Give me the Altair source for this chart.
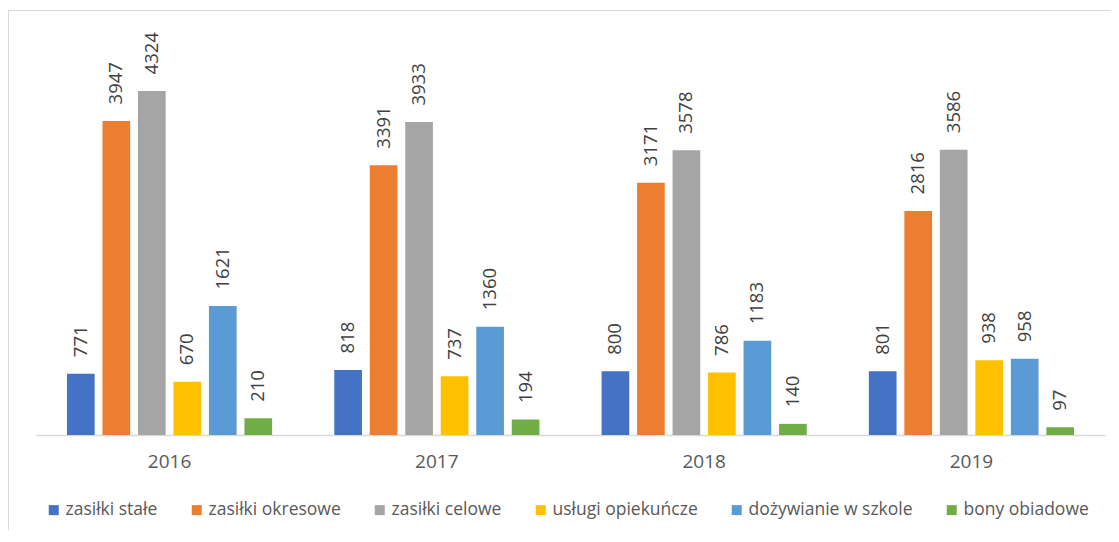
import altair as alt
import pandas as pd

years = ["2016", "2017", "2018", "2019"]
series = ["zasiłki stałe", "zasiłki okresowe", "zasiłki celowe",
          "usługi opiekuńcze", "dożywianie w szkole", "bony obiadowe"]
zasilki_stale = [771, 818, 800, 801]
zasilki_okresowe = [3947, 3391, 3171, 2816]
zasilki_celowe = [4324, 3933, 3578, 3586]
uslugi_opiekuncze = [670, 737, 786, 938]
dozywianie = [1621, 1360, 1183, 958]
bony_obiadowe = [210, 194, 140, 97]
colors = ["#4472C4", "#ED7D31", "#A5A5A5", "#FFC000", "#5B9BD5", "#70AD47"]

values = [zasilki_stale, zasilki_okresowe, zasilki_celowe,
          uslugi_opiekuncze, dozywianie, bony_obiadowe]
rows = []
for s, vals in zip(series, values):
    for y, v in zip(years, vals):
        rows.append({"rok": y, "seria": s, "wartosc": v})
df = pd.DataFrame(rows)

W, H = 1103, 520
FONT = "Open Sans"
TXT = "#595959"

x_enc = alt.X("rok:N", sort=years,
              scale=alt.Scale(range=[27.9, 1097.1], paddingInner=0, paddingOuter=0),
              axis=alt.Axis(title=None, orient="bottom", offset=-95, ticks=False,
                            labelAngle=0, labelFontSize=19, labelColor=TXT,
                            labelFont=FONT, labelPadding=17.5,
                            domainColor="#d9d9d9", domainWidth=1.5, grid=False))
xo_enc = alt.XOffset("seria:N", sort=series,
                     scale=alt.Scale(paddingInner=0.22, paddingOuter=0.875))
y_enc = alt.Y("wartosc:Q", scale=alt.Scale(domain=[-1194, 5341], nice=False, zero=False),
              axis=None)

base = alt.Chart(df)

bars = base.mark_bar().encode(
    x=x_enc,
    xOffset=xo_enc,
    y=y_enc,
    y2=alt.datum(0),
    color=alt.Color("seria:N", sort=series,
                    scale=alt.Scale(domain=series, range=colors),
                    legend=alt.Legend(title=None, orient="none", direction="horizontal",
                                      legendX=37, legendY=491, symbolType="square",
                                      symbolSize=100, symbolStrokeWidth=0,
                                      labelFontSize=17.5, labelColor=TXT, labelFont=FONT,
                                      labelLimit=400,
                                      columnPadding=30, labelOffset=3, padding=0,
                                      symbolOpacity=1)),
)

labels = base.mark_text(angle=270, align="left", baseline="middle", dx=16.5,
                        fontSize=18.5, font=FONT, color="#404040").encode(
    x=x_enc,
    xOffset=xo_enc,
    y=y_enc,
    text=alt.Text("wartosc:Q", format="d"),
)

border_top = alt.Chart(pd.DataFrame({"a": [0]})).mark_rule(color="#d9d9d9", strokeWidth=1).encode(
    x=alt.value(0), x2=alt.value(W), y=alt.value(0.5))
border_left = alt.Chart(pd.DataFrame({"a": [0]})).mark_rule(color="#d9d9d9", strokeWidth=1).encode(
    x=alt.value(0.5), y=alt.value(0), y2=alt.value(H))

chart = alt.layer(border_top, border_left, bars, labels).properties(
    width=W, height=H,
    autosize=alt.AutoSizeParams(type="none"),
    padding={"left": 0, "top": 2, "right": 0, "bottom": 0},
).configure_view(strokeWidth=0).configure(font=FONT)

chart.save("out.html", embed_options={"renderer": "svg", "actions": False})
